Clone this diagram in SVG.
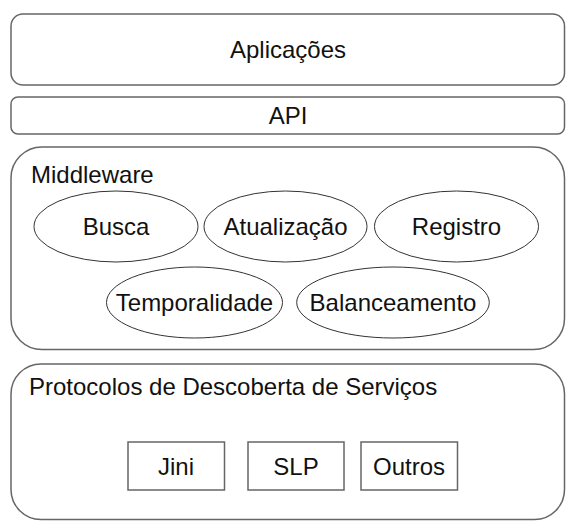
<svg xmlns="http://www.w3.org/2000/svg" width="576" height="528" viewBox="0 0 576 528">
<style>
.layer{fill:#fff;stroke:#666;stroke-width:1.5}
.ell{fill:#fff;stroke:#333;stroke-width:1}
.box{fill:#fff;stroke:#666;stroke-width:1.5}
text{font-family:"Liberation Sans",Arial,sans-serif;font-size:24px;fill:#111}
.c{text-anchor:middle}
</style>
<rect width="576" height="528" fill="#fff"/>
<g id="aplicacoes">
<rect class="layer" x="11" y="14" width="553.5" height="71" rx="12"/>
<text class="c" x="288" y="58">Aplicações</text>
</g>
<g id="api">
<rect class="layer" x="11" y="97" width="553.5" height="37" rx="7"/>
<text class="c" x="288" y="124">API</text>
</g>
<g id="middleware">
<rect class="layer" x="11" y="147" width="553.5" height="202.5" rx="31"/>
<text x="31" y="183">Middleware</text>
</g>
<g id="busca">
<ellipse class="ell" cx="116" cy="226.5" rx="82" ry="35.5"/>
<text class="c" x="116" y="234.5">Busca</text>
</g>
<g id="atualizacao">
<ellipse class="ell" cx="285.5" cy="226.5" rx="81.5" ry="35.5"/>
<text class="c" x="285.5" y="234.5">Atualização</text>
</g>
<g id="registro">
<ellipse class="ell" cx="456.5" cy="226.5" rx="82" ry="35.5"/>
<text class="c" x="456.5" y="234.5">Registro</text>
</g>
<g id="temporalidade">
<ellipse class="ell" cx="194.5" cy="302.5" rx="88" ry="35.5"/>
<text class="c" x="194.5" y="310.5">Temporalidade</text>
</g>
<g id="balanceamento">
<ellipse class="ell" cx="393" cy="302.5" rx="96.3" ry="35.5"/>
<text class="c" x="393" y="310.5">Balanceamento</text>
</g>
<g id="protocolos">
<rect class="layer" x="11" y="364" width="553.5" height="155.5" rx="30"/>
<text x="29" y="395">Protocolos de Descoberta de Serviços</text>
</g>
<g id="jini">
<rect class="box" x="128" y="442" width="96.5" height="48"/>
<text class="c" x="176" y="475">Jini</text>
</g>
<g id="slp">
<rect class="box" x="248" y="442" width="96" height="48"/>
<text class="c" x="296" y="475">SLP</text>
</g>
<g id="outros">
<rect class="box" x="361" y="442" width="96.5" height="48"/>
<text class="c" x="409" y="475">Outros</text>
</g>
<g id="connectors"></g>
</svg>
